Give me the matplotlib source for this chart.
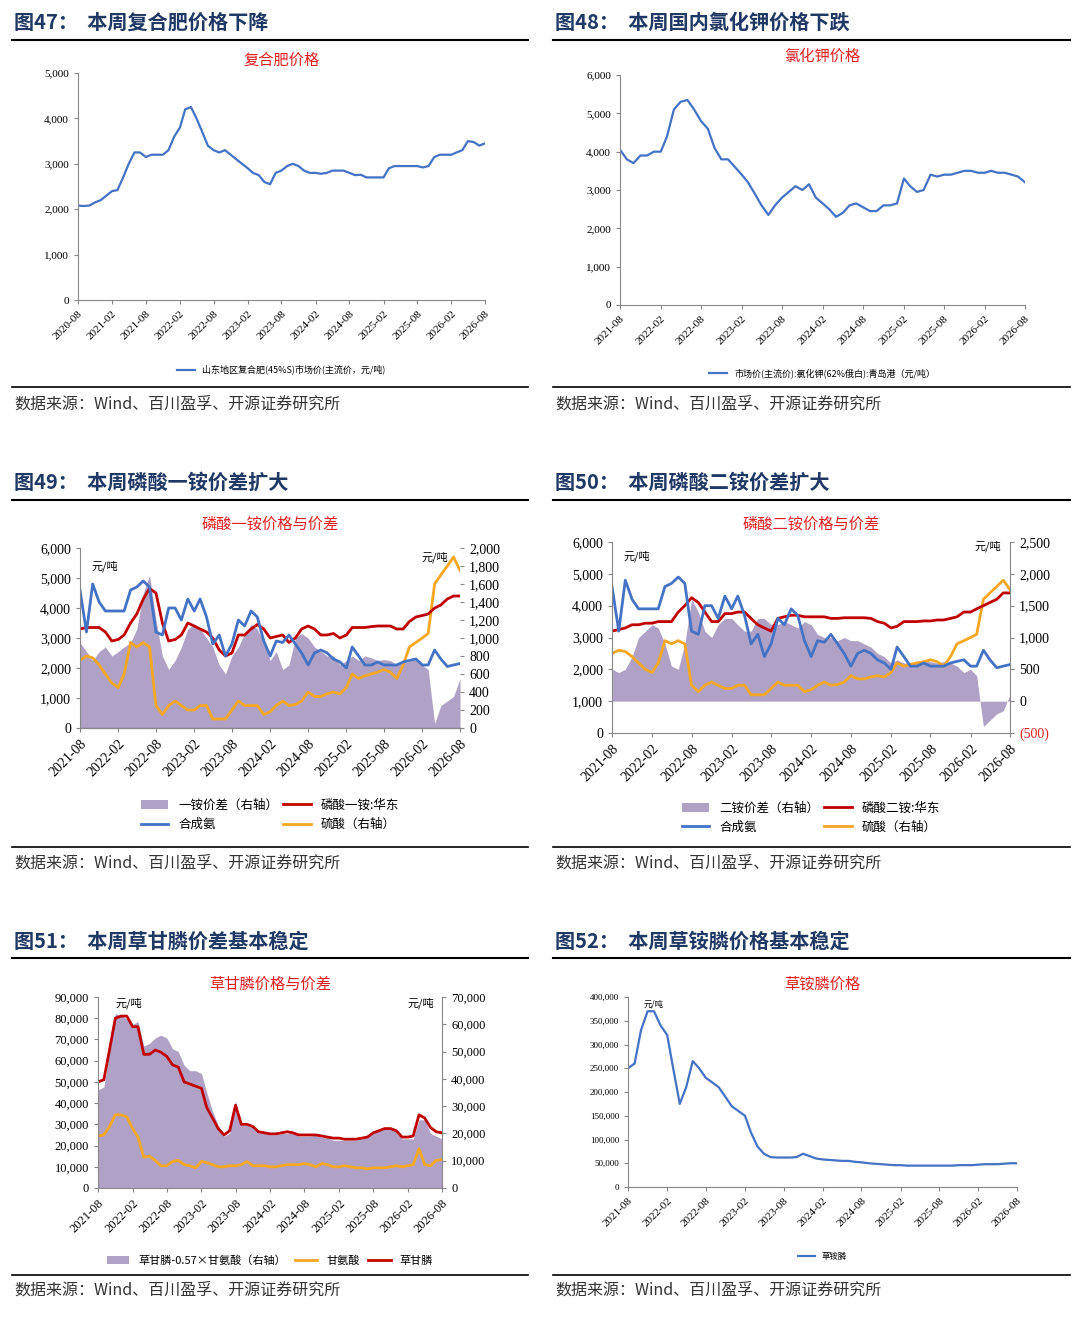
import matplotlib
matplotlib.use("Agg")
import matplotlib.pyplot as plt
import matplotlib.dates as mdates
from matplotlib.lines import Line2D
import pandas as pd

plt.rcParams['font.family'] = ['Liberation Serif', 'Noto Sans CJK SC', 'DejaVu Sans']
plt.rcParams['axes.unicode_minus'] = False

# ---------------- data ----------------
dates47 = pd.date_range("2020-08-01", "2026-08-01", freq="MS")
compound = [2080,2070,2080,2150,2200,2300,2400,2420,2700,3000,3250,3250,3150,3200,3200,3200,3300,
            3600,3800,4200,4250,4000,3700,3400,3300,3250,3300,3200,3100,3000,2900,2800,2750,2600,2550,
            2800,2850,2950,3000,2950,2850,2800,2800,2780,2800,2850,2850,2850,2800,2750,2760,2700,2700,
            2700,2700,2900,2950,2950,2950,2950,2950,2920,2950,3150,3200,3200,3200,3250,3300,3500,3480,3400,3450]

dates = pd.date_range("2021-08-01", "2026-08-01", freq="MS")
kcl = [4050,3800,3700,3900,3900,4000,4000,4400,5100,5300,5350,5100,4800,4600,4100,3800,3800,
       3600,3400,3200,2900,2600,2350,2600,2800,2950,3100,3000,3150,2800,2650,2500,2300,2400,2600,
       2650,2550,2450,2450,2600,2600,2650,3300,3100,2950,3000,3400,3350,3400,3400,3450,3500,3500,
       3450,3450,3500,3450,3450,3400,3350,3200]

map_east = [3300,3350,3350,3350,3200,2900,2950,3100,3500,3800,4300,4650,4500,3500,2900,2950,3100,
            3500,3400,3300,3200,3000,2600,2400,2500,3100,3100,3300,3450,3300,3000,3050,3100,2850,3000,
            3300,3400,3300,3100,3100,3150,3000,3100,3350,3350,3350,3380,3400,3400,3400,3300,3300,3550,
            3700,3750,3800,4000,4100,4300,4400,4400]
ammonia = [4600,3200,4800,4200,3900,3900,3900,3900,4600,4700,4900,4700,3200,3100,4000,4000,3600,
           4300,3900,4300,3700,2800,3100,2400,2800,3600,3400,3900,3700,2900,2400,2900,2850,3100,2800,
           2500,2100,2500,2600,2500,2300,2200,2000,2700,2400,2100,2100,2200,2100,2100,2100,2200,2250,
           2300,2100,2100,2600,2300,2050,2100,2150]
map_spread = [950,850,750,850,900,800,850,900,950,1100,1500,1700,1200,800,650,750,900,
              1100,1150,1100,1000,900,700,600,800,900,1050,1150,1100,950,750,850,650,700,1000,
              1050,1000,900,850,800,800,700,750,800,750,800,780,750,760,750,700,720,740,
              760,700,650,50,250,300,350,550]
sulfuric = [750,800,780,700,600,500,450,600,950,900,950,900,250,150,250,300,250,
            200,200,250,250,100,100,100,200,300,250,250,250,150,180,250,300,250,260,
            300,400,350,350,380,400,380,450,600,550,580,600,620,650,620,550,700,900,
            950,1000,1050,1600,1700,1800,1900,1750]

dap_east = [3200,3250,3300,3400,3400,3450,3450,3500,3500,3500,3800,4000,4250,4100,3800,3500,3500,
            3750,3750,3800,3800,3600,3400,3300,3200,3600,3650,3700,3700,3650,3650,3650,3650,3600,3600,
            3620,3620,3620,3620,3600,3500,3450,3300,3350,3500,3500,3500,3520,3520,3550,3550,3600,3650,
            3800,3800,3900,4000,4100,4200,4400,4400]
dap_spread = [500,450,500,700,1000,1100,1200,1150,900,550,500,900,1600,1400,1100,1000,1200,
              1300,1300,1200,1100,1100,1300,1300,1200,1200,1250,1200,1150,1250,1200,1050,1000,1000,950,
              1000,950,950,900,850,750,700,600,650,600,600,600,650,620,600,620,600,550,
              450,500,400,-400,-300,-200,-150,100]

glyphosate = [50000,51000,65000,80000,81000,81000,76000,76000,63000,63000,65000,64000,62000,58000,57000,50000,49000,
              48000,47000,38000,33000,28000,25000,27000,39000,30000,30000,29000,26500,26000,25500,25500,26000,26500,26000,
              25000,25000,25000,25000,24500,24000,23500,23500,23000,23000,23000,23500,24000,26000,27000,28000,28000,27000,
              24000,24000,24500,34500,33000,28500,26500,26000]
glycine = [24500,25000,29000,34500,34500,33500,28000,24000,14500,15000,13000,10500,10500,12500,13000,11000,10500,
           9500,12500,12000,11000,10000,10000,10500,10500,11000,12500,10500,10500,10500,10000,10000,10500,11000,11000,
           11000,11500,11000,10000,11500,11000,10000,10000,10500,10000,9500,9500,9000,9500,9500,9500,10000,10500,
           10000,10500,11000,18500,11000,10500,13000,13500]
gly_spread = [36000,37000,50000,64000,63000,62000,60000,61000,52000,53000,55000,56000,55000,51000,50000,45000,43000,
              43000,42000,35000,28000,23000,19000,20000,32000,23000,23000,22500,20500,20000,19500,19500,20000,20000,20000,
              19000,19000,19000,19500,18500,18500,17500,17500,17500,17500,17500,18000,18500,20000,21000,21500,21500,21000,
              18000,18000,18000,25000,25000,20000,19000,18000]

glufosinate = [250000,260000,330000,370000,370000,340000,320000,250000,175000,210000,265000,250000,230000,220000,210000,190000,170000,
               160000,150000,115000,85000,70000,63000,62000,62000,62000,63000,70000,65000,60000,58000,57000,56000,55000,55000,
               53000,52000,50000,49000,48000,47000,46000,46000,45000,45000,45000,45000,45000,45000,45000,45000,46000,46000,
               46000,47000,48000,48000,48000,49000,50000,50000]

# ---------------- style ----------------
W, H = 1080, 1318
BLUE = '#4472c4'; RED = '#c00000'; ORANGE = '#f5a623'; PURPLE = '#b0a2c6'
NAVY = '#1f3864'
fig = plt.figure(figsize=(W/100, H/100), dpi=100)

def ax_px(x0, y0, x1, y1):
    return fig.add_axes([x0/W, 1-y1/H, (x1-x0)/W, (y1-y0)/H])

def hline(x0, x1, y, lw=1.2):
    fig.add_artist(Line2D([x0/W, x1/W], [1-y/H, 1-y/H], color='black', lw=lw))

def header(x0, x1, ytitle, yline, text, ysrcline, ysrc):
    fig.text(x0/W+0.002, 1-ytitle/H, text, fontsize=14.5, fontweight='bold', color=NAVY,
             va='center', ha='left', family=['Noto Sans CJK SC'])
    hline(x0, x1, yline, 1.5)
    hline(x0, x1, ysrcline, 1.2)
    fig.text(x0/W+0.002, 1-ysrc/H, "数据来源：Wind、百川盈孚、开源证券研究所", fontsize=11.5,
             color='#333333', va='center', ha='left', family=['Noto Sans CJK SC'])

def style_x(ax, d0, d1, fs=8):
    ticks = pd.date_range(d0, d1, freq="6MS")
    ax.set_xticks(ticks)
    ax.set_xticklabels([t.strftime("%Y-%m") for t in ticks], rotation=45, ha='right',
                       rotation_mode='anchor', fontsize=fs)
    ax.set_xlim(pd.Timestamp(d0), pd.Timestamp(d1))
    for s in ['top', 'right']:
        ax.spines[s].set_visible(False)
    ax.spines['left'].set_color('#888888'); ax.spines['bottom'].set_color('#888888')
    ax.tick_params(direction='out', length=3, color='#888888')

def fmt(v):
    return f"{int(v):,}"

def yfmt(ax, ticks, fs):
    ax.set_yticks(ticks)
    ax.set_yticklabels([fmt(t) for t in ticks], fontsize=fs)

# ---- headers ----
header(12, 528, 22, 40, "图47：  本周复合肥价格下降", 387, 404)
header(553, 1070, 22, 40, "图48：  本周国内氯化钾价格下跌", 387, 404)
header(12, 528, 482, 500, "图49：  本周磷酸一铵价差扩大", 847, 863)
header(553, 1070, 482, 500, "图50：  本周磷酸二铵价差扩大", 847, 863)
header(12, 528, 941, 958, "图51：  本周草甘膦价差基本稳定", 1275, 1290)
header(553, 1070, 941, 958, "图52：  本周草铵膦价格基本稳定", 1275, 1290)

cjk = ['Noto Sans CJK SC']

# ---- P47 ----
ax = ax_px(78, 73, 485, 300)
ax.plot(dates47, compound, color=BLUE, lw=1.6, label="山东地区复合肥(45%S)市场价(主流价，元/吨)")
ax.set_ylim(0, 5000); yfmt(ax, range(0, 5001, 1000), 8)
style_x(ax, "2020-08-01", "2026-08-01", 8)
ax.set_title("复合肥价格", color='#e02020', fontsize=11, family=cjk, pad=6)
ax.legend(loc='upper center', bbox_to_anchor=(0.5, -0.25), frameon=False, prop={'family': cjk, 'size': 6.5})

# ---- P48 ----
ax = ax_px(620, 75, 1025, 305)
ax.plot(dates, kcl, color=BLUE, lw=1.6, label="市场价(主流价):氯化钾(62%俄白):青岛港（元/吨）")
ax.set_ylim(0, 6000); yfmt(ax, range(0, 6001, 1000), 8)
style_x(ax, "2021-08-01", "2026-08-01", 8)
ax.set_title("氯化钾价格", color='#e02020', fontsize=11, family=cjk, pad=10)
ax.legend(loc='upper center', bbox_to_anchor=(0.5, -0.24), frameon=False, prop={'family': cjk, 'size': 6.5})

# ---- P49 ----
ax = ax_px(80, 548, 460, 728)
ax2 = ax.twinx()
ax2.fill_between(dates, 0, map_spread, color=PURPLE, lw=0, label="一铵价差（右轴）")
ax2.plot(dates, sulfuric, color=ORANGE, lw=2, label="硫酸（右轴）")
ax2.set_ylim(0, 2000); yfmt(ax2, range(0, 2001, 200), 10)
ax.set_zorder(ax2.get_zorder()+1); ax.patch.set_visible(False)
ax.plot(dates, map_east, color=RED, lw=2, label="磷酸一铵:华东")
ax.plot(dates, ammonia, color=BLUE, lw=2, label="合成氨")
ax.set_ylim(0, 6000); yfmt(ax, range(0, 6001, 1000), 10)
style_x(ax, "2021-08-01", "2026-08-01", 10)
for s in ['top', 'left', 'right']:
    ax2.spines[s].set_visible(False)
ax2.tick_params(direction='out', length=3, color='#888888')
ax.set_title("磷酸一铵价格与价差", color='#e02020', fontsize=11, family=cjk, pad=14)
ax.text(0.03, 0.88, "元/吨", transform=ax.transAxes, fontsize=8, family=cjk)
ax.text(0.9, 0.93, "元/吨", transform=ax.transAxes, fontsize=8, family=cjk)
h1, l1 = ax2.get_legend_handles_labels(); h2, l2 = ax.get_legend_handles_labels()
ax.legend([h1[0], h2[1], h2[0], h1[1]], [l1[0], l2[1], l2[0], l1[1]], ncol=2, loc='upper center',
          bbox_to_anchor=(0.5, -0.33), frameon=False, prop={'family': cjk, 'size': 9},
          handlelength=2.2, columnspacing=0.4, labelspacing=0.5)

# ---- P50 ----
ax = ax_px(612, 542, 1010, 733)
ax2 = ax.twinx()
ax2.fill_between(dates, 0, dap_spread, color=PURPLE, lw=0, label="二铵价差（右轴）")
ax2.plot(dates, sulfuric, color=ORANGE, lw=2, label="硫酸（右轴）")
ax2.set_ylim(-500, 2500)
rt = list(range(-500, 2501, 500))
ax2.set_yticks(rt)
ax2.set_yticklabels(["(500)" if t < 0 else fmt(t) for t in rt], fontsize=10)
ax2.get_yticklabels()[0].set_color('#e02020')
ax.set_zorder(ax2.get_zorder()+1); ax.patch.set_visible(False)
ax.plot(dates, dap_east, color=RED, lw=2, label="磷酸二铵:华东")
ax.plot(dates, ammonia, color=BLUE, lw=2, label="合成氨")
ax.set_ylim(0, 6000); yfmt(ax, range(0, 6001, 1000), 10)
style_x(ax, "2021-08-01", "2026-08-01", 10)
for s in ['top', 'left', 'bottom']:
    ax2.spines[s].set_visible(False)
ax2.spines['right'].set_color('#888888')
ax2.tick_params(direction='out', length=3, color='#888888')
ax.spines['right'].set_visible(False)
ax.set_title("磷酸二铵价格与价差", color='#e02020', fontsize=11, family=cjk, pad=10)
ax.text(0.03, 0.91, "元/吨", transform=ax.transAxes, fontsize=8, family=cjk)
ax.text(0.91, 0.96, "元/吨", transform=ax.transAxes, fontsize=8, family=cjk)
h1, l1 = ax2.get_legend_handles_labels(); h2, l2 = ax.get_legend_handles_labels()
ax.legend([h1[0], h2[1], h2[0], h1[1]], [l1[0], l2[1], l2[0], l1[1]], ncol=2, loc='upper center',
          bbox_to_anchor=(0.5, -0.3), frameon=False, prop={'family': cjk, 'size': 9},
          handlelength=2.2, columnspacing=0.4, labelspacing=0.5)

# ---- P51 ----
ax = ax_px(98, 997, 442, 1188)
ax2 = ax.twinx()
ax2.fill_between(dates, 0, gly_spread, color=PURPLE, lw=0, label="草甘膦-0.57×甘氨酸（右轴）")
ax2.set_ylim(0, 70000); yfmt(ax2, range(0, 70001, 10000), 9)
ax.set_zorder(ax2.get_zorder()+1); ax.patch.set_visible(False)
ax.plot(dates, glycine, color=ORANGE, lw=2, label="甘氨酸")
ax.plot(dates, glyphosate, color=RED, lw=2, label="草甘膦")
ax.set_ylim(0, 90000); yfmt(ax, range(0, 90001, 10000), 9)
style_x(ax, "2021-08-01", "2026-08-01", 9)
for s in ['top', 'left', 'bottom']:
    ax2.spines[s].set_visible(False)
ax2.spines['right'].set_color('#888888')
ax2.tick_params(direction='out', length=3, color='#888888')
ax.spines['right'].set_visible(False)
ax.set_title("草甘膦价格与价差", color='#e02020', fontsize=11, family=cjk, pad=6)
ax.text(0.05, 0.95, "元/吨", transform=ax.transAxes, fontsize=8, family=cjk)
ax.text(0.9, 0.95, "元/吨", transform=ax.transAxes, fontsize=8, family=cjk)
h1, l1 = ax2.get_legend_handles_labels(); h2, l2 = ax.get_legend_handles_labels()
ax.legend(h1 + h2, l1 + l2, ncol=3, loc='upper center', bbox_to_anchor=(0.5, -0.3), frameon=False,
          prop={'family': cjk, 'size': 8}, handlelength=2.0, columnspacing=0.8)

# ---- P52 ----
ax = ax_px(628, 997, 1017, 1187)
ax.plot(dates, glufosinate, color=BLUE, lw=1.6, label="草铵膦")
ax.set_ylim(0, 400000); yfmt(ax, range(0, 400001, 50000), 6.5)
style_x(ax, "2021-08-01", "2026-08-01", 8)
ax.set_title("草铵膦价格", color='#e02020', fontsize=11, family=cjk, pad=6)
ax.text(0.04, 0.95, "元/吨", transform=ax.transAxes, fontsize=6, family=cjk)
ax.legend(loc='upper center', bbox_to_anchor=(0.5, -0.3), frameon=False, prop={'family': cjk, 'size': 6})

fig.savefig("out.png", dpi=100, facecolor='white')
